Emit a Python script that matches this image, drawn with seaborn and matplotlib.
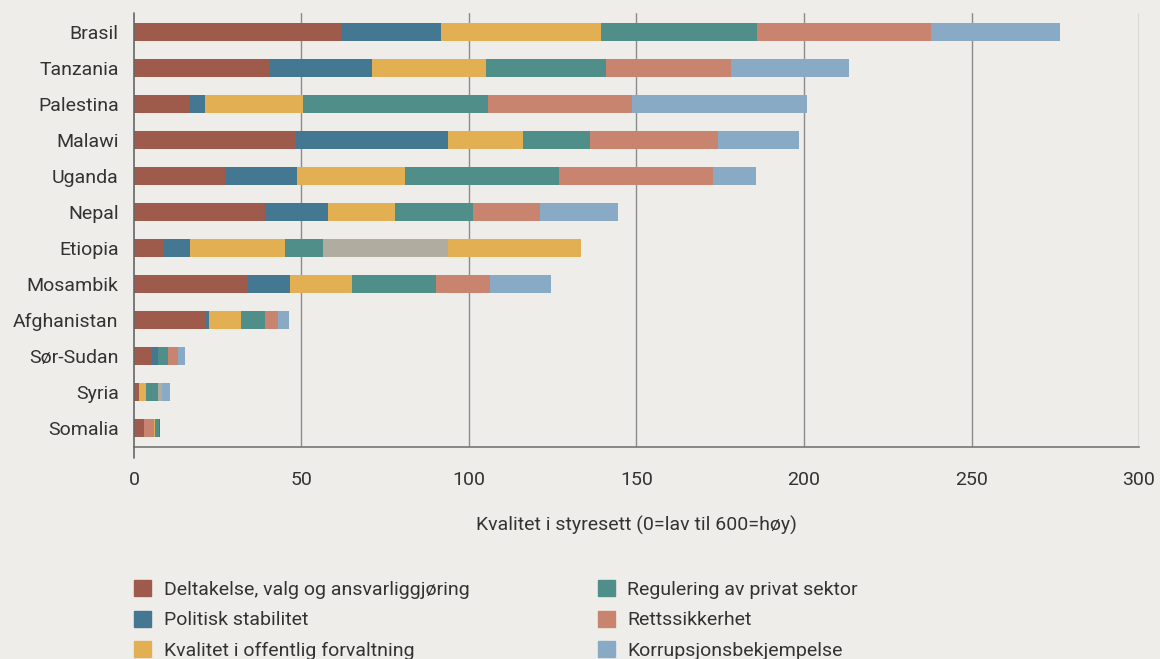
import pandas as pd
import matplotlib
matplotlib.use("Agg")
import matplotlib.pyplot as plt
import matplotlib.patches as mpatches
import seaborn as sns

# Countries, top to bottom
countries = ['Brasil', 'Tanzania', 'Palestina', 'Malawi', 'Uganda', 'Nepal',
             'Etiopia', 'Mosambik', 'Afghanistan', 'Sør-Sudan', 'Syria', 'Somalia']

# Governance dimensions (legend order)
dimensions = ['Deltakelse, valg og ansvarliggjøring', 'Politisk stabilitet',
              'Kvalitet i offentlig forvaltning', 'Regulering av privat sektor',
              'Rettssikkerhet', 'Korrupsjonsbekjempelse']

deltakelse = [61.8, 40.5, 16.3, 48.3, 27.1, 39.2, 9.0, 33.9, 21.5, 5.5, 1.4, 2.9]
politisk = [29.8, 30.5, 4.9, 45.3, 21.5, 18.7, 7.7, 12.7, 0.9, 1.8, 0.0, 3.1]
forvaltning = [47.8, 34.0, 29.3, 22.5, 32.2, 20.0, 28.4, 18.5, 9.6, 0.0, 2.1, 0.2]
regulering = [46.7, 36.0, 55.1, 20.1, 46.1, 23.2, 11.3, 25.0, 7.2, 2.8, 3.6, 1.3]
rettssikkerhet = [51.8, 37.3, 43.1, 38.1, 46.0, 20.1, 37.3, 16.2, 3.8, 3.0, 1.2, 0.2]
korrupsjon = [38.5, 35.1, 52.2, 24.2, 12.8, 23.4, 39.7, 18.1, 3.2, 2.1, 2.4, 0.0]

colors = ['#9e5b4b', '#447792', '#e2b053', '#508e8a', '#c8846f', '#88aac4']
grey = '#b0aca0'

# segments drawn in another colour than their series in the original chart
overrides = {('Etiopia', 4): grey, ('Etiopia', 5): colors[2],
             ('Syria', 4): grey,
             ('Somalia', 1): colors[4], ('Somalia', 4): colors[1]}

df = pd.DataFrame({'land': countries, dimensions[0]: deltakelse,
                   dimensions[1]: politisk, dimensions[2]: forvaltning,
                   dimensions[3]: regulering, dimensions[4]: rettssikkerhet,
                   dimensions[5]: korrupsjon})
cum = df[dimensions].cumsum(axis=1)

bg = '#efedea'
text_col = '#333333'
fs = 14
sns.set_style('white')
plt.rcParams['font.family'] = ['Roboto', 'DejaVu Sans']

fig = plt.figure(figsize=(11.6, 6.59), dpi=100, facecolor=bg)
ax = fig.add_axes([0.1155, 0.321, 0.8664, 0.6597])
ax.set_facecolor(bg)

# stacked bars: draw cumulative totals from the longest to the shortest
for i in reversed(range(len(dimensions))):
    sns.barplot(x=cum[dimensions[i]], y=df['land'], orient='h', color=colors[i],
                saturation=1, width=0.5, linewidth=0, ax=ax, zorder=2)
    bars = ax.containers[-1]
    for j, land in enumerate(countries):
        if (land, i) in overrides:
            bars[j].set_facecolor(overrides[(land, i)])

ax.set_xlim(0, 300)
ax.set_ylim(len(countries) - 0.46, -0.54)
ax.set_xticks(range(0, 301, 50))
for x in range(50, 301, 50):
    ax.axvline(x, color='#8c8c8c', lw=1, zorder=1)
ax.axvline(0, ymin=-0.025, ymax=1, color='#666666', lw=1.2, zorder=3, clip_on=False)

for s in ['top', 'right', 'left']:
    ax.spines[s].set_visible(False)
ax.spines['bottom'].set_color('#777777')
ax.spines['bottom'].set_linewidth(1.2)

ax.tick_params(axis='x', length=0, pad=17, labelsize=fs, labelcolor=text_col)
ax.tick_params(axis='y', length=0, pad=11, labelsize=fs, labelcolor=text_col)
ax.set_ylabel('')
ax.set_xlabel('Kvalitet i styresett (0=lav til 600=høy)', fontsize=fs,
              color=text_col, labelpad=19)

handles = [mpatches.Patch(color=c, label=d) for c, d in zip(colors, dimensions)]
fig.legend(handles=handles, loc='upper left', bbox_to_anchor=(0.1155, 1 - 580 / 659),
           ncol=2, frameon=False, fontsize=fs, labelcolor=text_col,
           handlelength=0.88, handleheight=0.88, handletextpad=0.64,
           labelspacing=0.62, columnspacing=6.6, borderpad=0, borderaxespad=0)

fig.savefig('out.png', dpi=100, facecolor=bg)
